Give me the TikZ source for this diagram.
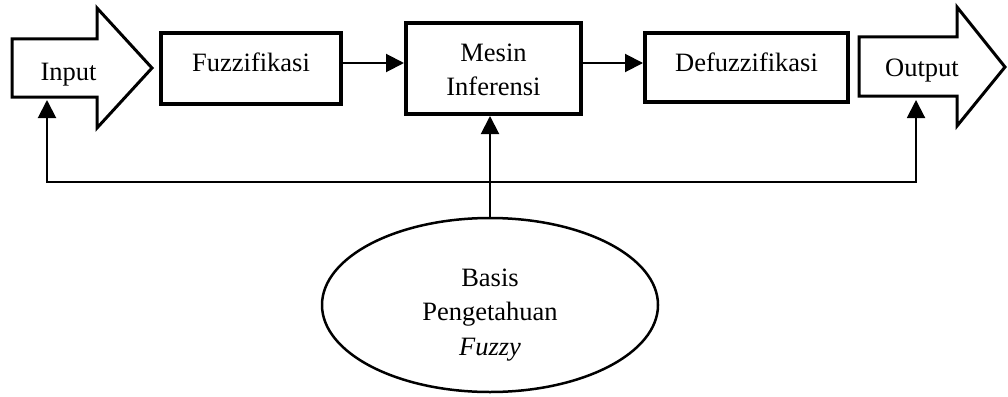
\documentclass[tikz,border=0pt]{standalone}
\usepackage{fontspec}
\setmainfont{Liberation Serif}
\usetikzlibrary{arrows.meta,shapes.geometric,calc}
\begin{document}
\begin{tikzpicture}[x=1pt,y=-1pt,
  box/.style={draw,line width=4pt,inner sep=0pt},
  conn/.style={line width=2pt},
  tip/.style={Triangle[length=18pt,width=18pt]},
  arr/.style={conn,-{Triangle[length=18pt,width=18pt]}},
  lbl/.style={font=\fontsize{26.5}{34}\selectfont,anchor=base,inner sep=0pt},
  bigarrow/.style={draw,line width=3pt,line join=miter}]
\useasboundingbox (0,0) rectangle (1008,396);

% big input / output arrows
\draw[bigarrow] (12,39) -- (97,39) -- (97,8) -- (152,68) -- (97,128) -- (97,97) -- (12,97) -- cycle;
\node[lbl] (in) at (68.5,80) {Input};
\draw[bigarrow] (859,37) -- (957,37) -- (957,7) -- (1005,67) -- (957,126) -- (957,96) -- (859,96) -- cycle;
\node[lbl] (out) at (922,77) {Output};

% boxes
\node[box,minimum width=180pt,minimum height=71pt] (fuz) at (251,68.5) {};
\node[lbl] (tfuz) at (251,71) {Fuzzifikasi};
\node[box,minimum width=175pt,minimum height=91pt] (mes) at (493.5,68.5) {};
\node[lbl] (tmes1) at (493.5,61) {Mesin};
\node[lbl] (tmes2) at (493.5,95) {Inferensi};
\node[box,minimum width=203pt,minimum height=69pt] (def) at (746.5,67.5) {};
\node[lbl] (tdef) at (746.5,71) {Defuzzifikasi};

% knowledge base
\node[draw,ellipse,line width=2.5pt,minimum width=336pt,minimum height=174pt,inner sep=0pt] (kb) at (490,305) {};
\node[lbl] (tkb1) at (490,286) {Basis};
\node[lbl] (tkb2) at (490,320) {Pengetahuan};
\node[lbl,font=\fontsize{26.5}{34}\selectfont\itshape] (tkb3) at (490,355) {Fuzzy};

% connectors
\coordinate (ay) at (0,63);
\draw[arr] (fuz.east |- ay) -- (mes.west |- ay);
\draw[arr] (mes.east |- ay) -- (def.west |- ay);
\draw[arr] (kb.north) -- (kb.north |- mes.south);

\coordinate (inb) at (47,100);
\coordinate (fbl) at (47,182);
\coordinate (fbr) at (916,182);
\coordinate (outb) at (916,100);
\draw[conn,{Triangle[length=18pt,width=18pt]}-{Triangle[length=18pt,width=18pt]}] (inb) -- (fbl) -- (fbr) -- (outb);
\end{tikzpicture}
\end{document}
